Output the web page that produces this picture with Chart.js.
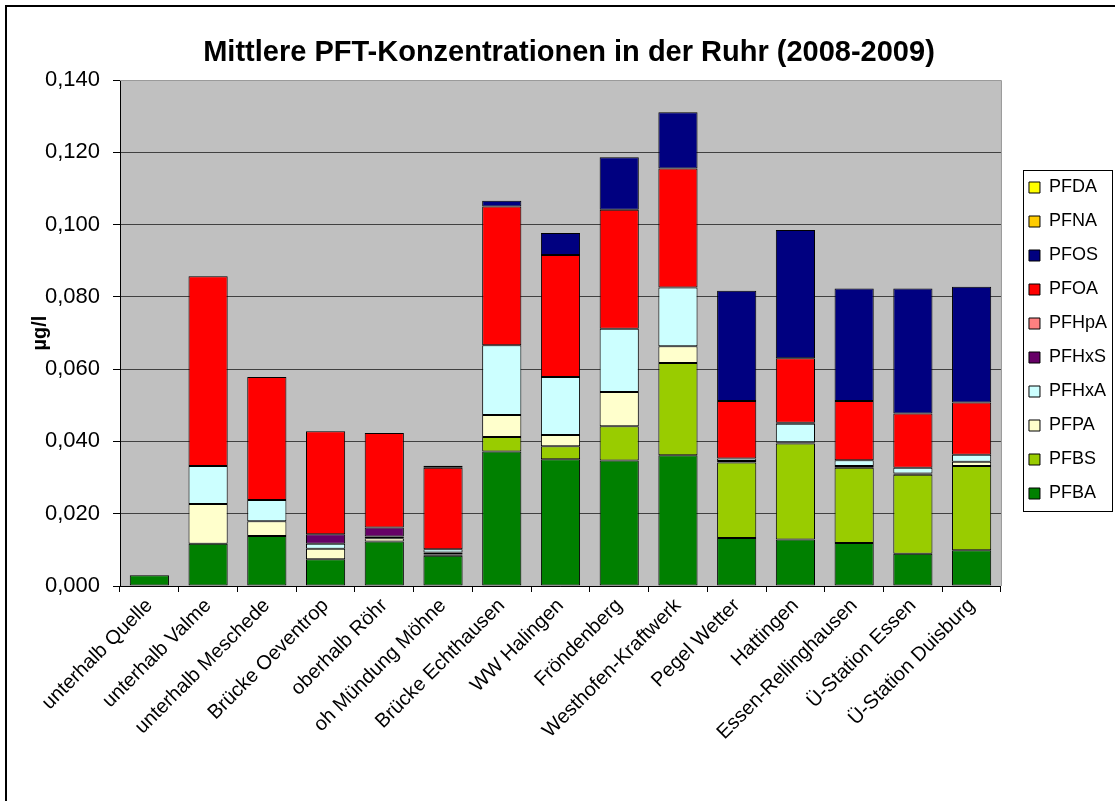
<!DOCTYPE html>
<html>
<head>
<meta charset="utf-8">
<script src="https://cdn.jsdelivr.net/npm/chart.js@4/dist/chart.umd.min.js"></script>
<style>
  html, body { margin: 0; padding: 0; background: #fff; }
  #wrap { width: 1115px; height: 801px; }
</style>
</head>
<body>
<div id="wrap"><canvas id="pft_chart" width="1115" height="801"></canvas></div>
<script>
// Messstellen entlang der Ruhr
const stations = ['unterhalb Quelle', 'unterhalb Valme', 'unterhalb Meschede', 'Brücke Oeventrop',
    'oberhalb Röhr', 'oh Mündung Möhne', 'Brücke Echthausen', 'WW Halingen', 'Fröndenberg',
    'Westhofen-Kraftwerk', 'Pegel Wetter', 'Hattingen', 'Essen-Rellinghausen',
    'Ü-Station Essen', 'Ü-Station Duisburg'];

// Mittelwerte in µg/l
const pfba  = [0.0030, 0.0117, 0.0138, 0.0074, 0.0123, 0.0084, 0.0372, 0.0351, 0.0347, 0.0362, 0.0133, 0.0129, 0.0119, 0.0089, 0.0099];
const pfbs  = [0, 0, 0, 0, 0, 0.0003, 0.0040, 0.0036, 0.0095, 0.0255, 0.0209, 0.0265, 0.0208, 0.0219, 0.0233];
const pfpa  = [0, 0.0110, 0.0041, 0.0029, 0.0009, 0.0006, 0.0061, 0.0031, 0.0095, 0.0046, 0.0004, 0.0004, 0.0005, 0.0003, 0.0012];
const pfhxa = [0, 0.0105, 0.0059, 0.0014, 0.0005, 0.0009, 0.0193, 0.0160, 0.0175, 0.0163, 0.0007, 0.0051, 0.0016, 0.0016, 0.0019];
const pfhxs = [0, 0, 0, 0.0026, 0.0025, 0, 0, 0, 0, 0, 0, 0.0003, 0, 0, 0];
const pfhpa = [0, 0, 0, 0, 0, 0, 0, 0, 0, 0, 0, 0, 0, 0, 0];
const pfoa  = [0, 0.0525, 0.0340, 0.0285, 0.0261, 0.0225, 0.0384, 0.0338, 0.0329, 0.0329, 0.0159, 0.0178, 0.0164, 0.0150, 0.0145];
const pfos  = [0, 0, 0, 0, 0, 0.0006, 0.0016, 0.0061, 0.0145, 0.0156, 0.0305, 0.0355, 0.0311, 0.0346, 0.0320];
const pfna  = [0, 0, 0, 0, 0, 0, 0, 0, 0, 0, 0, 0, 0, 0, 0];
const pfda  = [0, 0, 0, 0, 0, 0, 0, 0, 0, 0, 0, 0, 0, 0, 0];

const yTicks = [0, 0.02, 0.04, 0.06, 0.08, 0.1, 0.12, 0.14];
const chartTitle = 'Mittlere PFT-Konzentrationen in der Ruhr (2008-2009)';

function serie(label, data, color) {
    return {
        label: label,
        data: data,
        backgroundColor: color,
        borderColor: '#000000',
        borderWidth: 1,
        borderSkipped: false
    };
}

// Hintergrund, Rahmen, Titel und Legendenrahmen
const frame = {
    id: 'frame',
    beforeDraw(chart) {
        const ctx = chart.ctx;
        const a = chart.chartArea;
        ctx.save();
        ctx.fillStyle = '#ffffff';
        ctx.fillRect(0, 0, chart.width, chart.height);
        ctx.fillStyle = '#c0c0c0';
        ctx.fillRect(a.left, a.top, a.right - a.left, a.bottom - a.top);
        ctx.strokeStyle = '#000000';
        ctx.lineWidth = 2;
        ctx.strokeRect(6, 6, chart.width + 10, chart.height + 10);
        ctx.restore();
    },
    afterDatasetsDraw(chart) {
        const ctx = chart.ctx;
        const a = chart.chartArea;
        ctx.save();
        ctx.strokeStyle = '#9a9a9a';
        ctx.lineWidth = 1;
        ctx.beginPath();
        ctx.moveTo(a.left, a.top + 0.5);
        ctx.lineTo(a.right + 0.5, a.top + 0.5);
        ctx.lineTo(a.right + 0.5, a.bottom);
        ctx.stroke();
        ctx.restore();
    },
    afterLayout(chart) {
        const lg = chart.legend;
        lg.left += 12; lg.right += 12;
        lg.top -= 100; lg.bottom -= 100;
    },
    afterDraw(chart) {
        const ctx = chart.ctx;
        ctx.save();
        ctx.strokeStyle = '#000000';
        ctx.lineWidth = 1;
        ctx.strokeRect(1023.5, 170.5, 89, 341);
        ctx.fillStyle = '#000000';
        ctx.font = 'bold 29px "Liberation Sans", Arial, sans-serif';
        ctx.textAlign = 'center';
        ctx.textBaseline = 'middle';
        ctx.fillText(chartTitle, 569, 53);
        ctx.restore();
    }
};

new Chart(document.getElementById('pft_chart').getContext('2d'), {
    type: 'bar',
    data: {
        labels: stations,
        datasets: [
            serie('PFBA', pfba, '#008000'),
            serie('PFBS', pfbs, '#99cc00'),
            serie('PFPA', pfpa, '#ffffcc'),
            serie('PFHxA', pfhxa, '#ccffff'),
            serie('PFHxS', pfhxs, '#660066'),
            serie('PFHpA', pfhpa, '#ff8080'),
            serie('PFOA', pfoa, '#ff0000'),
            serie('PFOS', pfos, '#000080'),
            serie('PFNA', pfna, '#ffcc00'),
            serie('PFDA', pfda, '#ffff00')
        ]
    },
    options: {
        responsive: false,
        animation: false,
        layout: { padding: { left: 0, right: 10, top: 80, bottom: 0 } },
        datasets: { bar: { barPercentage: 1, categoryPercentage: 0.667 } },
        plugins: {
            title: { display: false },
            legend: {
                position: 'right',
                reverse: true,
                labels: {
                    color: '#000000',
                    font: { family: 'Liberation Sans, Arial, sans-serif', size: 18 },
                    boxWidth: 11,
                    boxHeight: 11,
                    padding: 16
                }
            },
            tooltip: { enabled: false }
        },
        scales: {
            x: {
                stacked: true,
                afterFit(scale) { scale.height = 215; },
                grid: { display: true, drawOnChartArea: false, drawTicks: true, tickLength: 6, color: '#000000', offset: true },
                border: { color: '#000000', width: 1 },
                ticks: {
                    color: '#000000',
                    autoSkip: false,
                    maxRotation: 45,
                    minRotation: 45,
                    padding: 2,
                    font: { family: 'Liberation Sans, Arial, sans-serif', size: 20 }
                }
            },
            y: {
                stacked: true,
                min: 0,
                max: 0.14,
                afterFit(scale) { scale.width = 120; },
                afterBuildTicks(scale) { scale.ticks = yTicks.map(v => ({ value: v })); },
                grid: {
                    color: (c) => c.tick && c.tick.value >= 0.14 ? '#9a9a9a' : '#404040',
                    tickColor: '#000000',
                    tickLength: 7,
                    drawTicks: true
                },
                border: { color: '#000000', width: 1 },
                ticks: {
                    color: '#000000',
                    padding: 13,
                    font: { family: 'Liberation Sans, Arial, sans-serif', size: 22 },
                    callback: (v) => Number(v).toFixed(3).replace('.', ',')
                },
                title: {
                    display: true,
                    text: 'µg/l',
                    color: '#000000',
                    font: { family: 'Liberation Sans, Arial, sans-serif', size: 20, weight: 'bold' },
                    padding: { top: 28, bottom: 0 }
                }
            }
        }
    },
    plugins: [frame]
});
</script>
</body>
</html>
